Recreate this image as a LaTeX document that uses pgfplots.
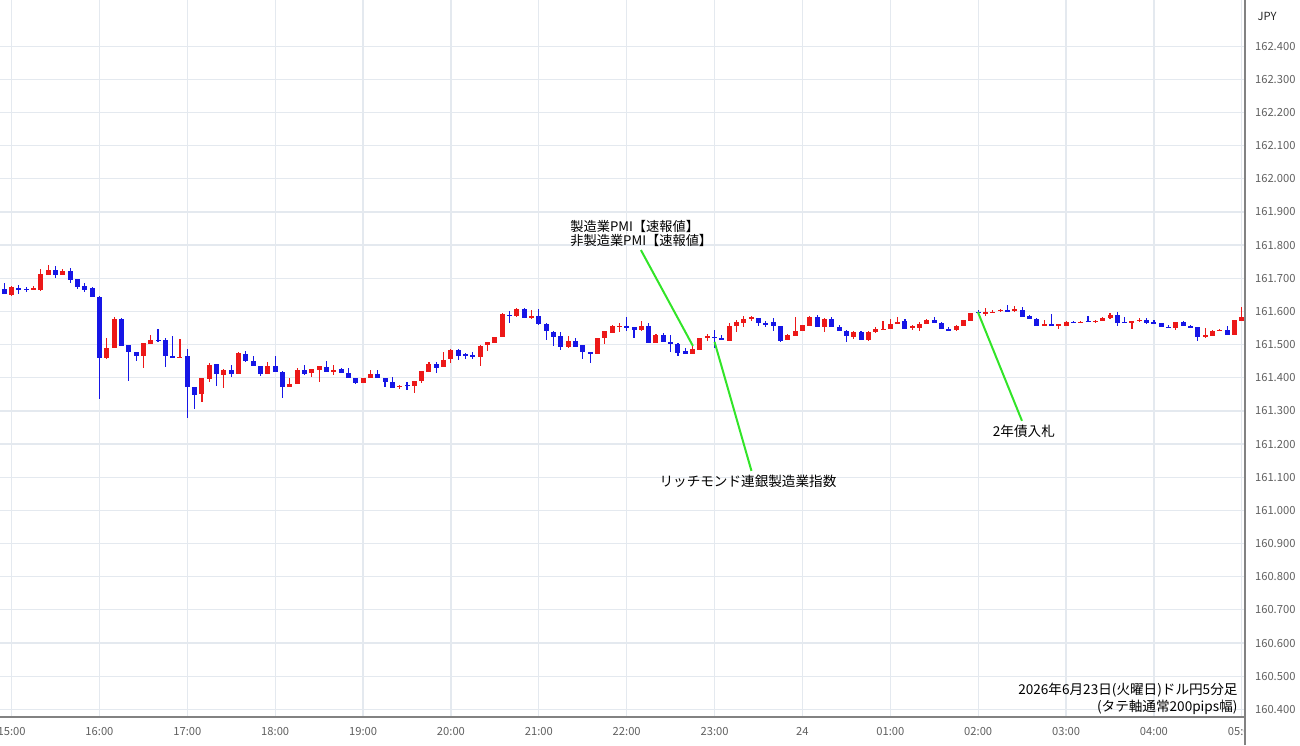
\documentclass[border=0pt]{standalone}
\usepackage{fontspec}
\setmainfont{Noto Sans CJK JP}
\usepackage{pgfplots}
\pgfplotsset{compat=1.18}
\usepackage{pgfplotstable}
\definecolor{upc}{RGB}{236,24,24}
\definecolor{dnc}{RGB}{22,22,230}
\definecolor{gridc}{RGB}{228,233,239}
\definecolor{annc}{RGB}{50,228,40}
\definecolor{tickc}{RGB}{95,95,95}
\definecolor{framec}{RGB}{130,130,130}
\pgfplotstableread{
m o h l c
-5 161.668 161.685 161.652 161.652
0 161.650 161.678 161.648 161.673
5 161.670 161.680 161.652 161.668
10 161.668 161.675 161.660 161.666
15 161.667 161.678 161.666 161.670
20 161.667 161.728 161.663 161.715
25 161.712 161.742 161.712 161.725
30 161.725 161.738 161.700 161.710
35 161.710 161.730 161.710 161.723
40 161.723 161.730 161.685 161.695
45 161.698 161.698 161.667 161.673
50 161.678 161.688 161.660 161.665
55 161.670 161.675 161.643 161.643
60 161.643 161.648 161.335 161.460
65 161.460 161.520 161.458 161.492
70 161.492 161.583 161.490 161.578
75 161.578 161.580 161.498 161.498
80 161.500 161.500 161.390 161.478
85 161.478 161.478 161.450 161.467
90 161.467 161.506 161.428 161.504
95 161.502 161.530 161.502 161.515
100 161.515 161.548 161.508 161.512
105 161.515 161.520 161.432 161.467
110 161.468 161.528 161.462 161.462
115 161.462 161.518 161.461 161.464
120 161.465 161.485 161.278 161.372
125 161.372 161.372 161.307 161.350
130 161.350 161.402 161.327 161.398
135 161.398 161.445 161.387 161.440
140 161.440 161.440 161.375 161.412
145 161.410 161.427 161.370 161.425
150 161.425 161.440 161.402 161.413
155 161.413 161.478 161.412 161.475
160 161.472 161.482 161.447 161.452
165 161.453 161.467 161.435 161.435
170 161.437 161.437 161.405 161.413
175 161.413 161.448 161.412 161.437
180 161.437 161.468 161.420 161.420
185 161.420 161.420 161.340 161.373
190 161.373 161.400 161.373 161.383
195 161.383 161.430 161.382 161.425
200 161.425 161.440 161.410 161.413
205 161.415 161.427 161.402 161.425
210 161.425 161.437 161.388 161.435
215 161.433 161.450 161.417 161.418
220 161.418 161.440 161.410 161.425
225 161.425 161.430 161.414 161.415
230 161.415 161.428 161.400 161.400
235 161.400 161.402 161.382 161.385
240 161.385 161.402 161.385 161.400
245 161.400 161.425 161.400 161.413
250 161.413 161.425 161.400 161.400
255 161.400 161.400 161.372 161.388
260 161.388 161.402 161.370 161.370
265 161.373 161.377 161.365 161.377
270 161.378 161.388 161.365 161.376
275 161.377 161.392 161.355 161.392
280 161.390 161.422 161.385 161.420
285 161.418 161.448 161.418 161.442
290 161.442 161.448 161.415 161.430
295 161.432 161.480 161.432 161.455
300 161.457 161.487 161.445 161.485
305 161.483 161.485 161.452 161.467
310 161.470 161.475 161.458 161.467
315 161.469 161.478 161.458 161.467
320 161.465 161.500 161.435 161.498
325 161.498 161.508 161.483 161.507
330 161.505 161.525 161.505 161.523
335 161.523 161.595 161.522 161.593
340 161.592 161.602 161.565 161.589
345 161.587 161.613 161.586 161.608
350 161.608 161.610 161.580 161.582
355 161.582 161.607 161.580 161.587
360 161.588 161.608 161.558 161.562
365 161.565 161.565 161.515 161.542
370 161.540 161.542 161.498 161.525
375 161.527 161.538 161.485 161.493
380 161.493 161.525 161.490 161.512
385 161.512 161.520 161.493 161.493
390 161.498 161.500 161.457 161.477
395 161.477 161.477 161.445 161.474
400 161.473 161.522 161.472 161.520
405 161.520 161.542 161.502 161.540
410 161.537 161.560 161.537 161.557
415 161.554 161.567 161.540 161.557
420 161.557 161.585 161.542 161.553
425 161.552 161.552 161.522 161.545
430 161.543 161.572 161.542 161.557
435 161.557 161.565 161.505 161.505
440 161.505 161.532 161.505 161.530
445 161.530 161.535 161.508 161.508
450 161.510 161.530 161.480 161.502
455 161.502 161.505 161.468 161.475
460 161.482 161.490 161.472 161.472
465 161.472 161.500 161.472 161.488
470 161.485 161.522 161.484 161.520
475 161.523 161.533 161.512 161.526
480 161.524 161.545 161.492 161.521
485 161.520 161.530 161.515 161.515
490 161.513 161.567 161.512 161.557
495 161.557 161.575 161.538 161.570
500 161.567 161.587 161.553 161.580
505 161.580 161.587 161.572 161.583
510 161.580 161.582 161.558 161.565
515 161.565 161.572 161.552 161.562
520 161.567 161.580 161.542 161.557
525 161.557 161.558 161.510 161.512
530 161.515 161.532 161.514 161.530
535 161.528 161.583 161.527 161.542
540 161.542 161.560 161.541 161.558
545 161.557 161.587 161.556 161.585
550 161.585 161.590 161.553 161.553
555 161.553 161.580 161.537 161.578
560 161.578 161.584 161.552 161.553
565 161.555 161.560 161.540 161.542
570 161.542 161.544 161.508 161.525
575 161.525 161.540 161.517 161.540
580 161.540 161.542 161.514 161.515
585 161.513 161.542 161.512 161.538
590 161.537 161.555 161.536 161.547
595 161.545 161.572 161.544 161.548
600 161.548 161.578 161.547 161.565
605 161.565 161.585 161.564 161.570
610 161.572 161.577 161.547 161.548
615 161.553 161.562 161.545 161.556
620 161.550 161.570 161.542 161.563
625 161.562 161.577 161.562 161.575
630 161.577 161.584 161.566 161.567
635 161.567 161.569 161.548 161.548
640 161.549 161.555 161.543 161.543
645 161.543 161.559 161.542 161.557
650 161.557 161.575 161.556 161.574
655 161.574 161.598 161.573 161.597
660 161.599 161.604 161.592 161.596
665 161.592 161.610 161.588 161.600
670 161.598 161.605 161.596 161.601
675 161.602 161.608 161.600 161.604
680 161.605 161.618 161.600 161.600
685 161.600 161.618 161.599 161.606
690 161.606 161.613 161.584 161.584
695 161.587 161.590 161.576 161.577
700 161.577 161.580 161.557 161.557
705 161.557 161.575 161.556 161.560
710 161.560 161.592 161.556 161.557
715 161.558 161.565 161.548 161.560
720 161.557 161.572 161.556 161.570
725 161.570 161.572 161.566 161.567
730 161.567 161.573 161.566 161.570
735 161.573 161.585 161.569 161.570
740 161.570 161.577 161.566 161.573
745 161.572 161.585 161.571 161.581
750 161.580 161.595 161.579 161.589
755 161.590 161.598 161.558 161.567
760 161.570 161.585 161.566 161.567
765 161.568 161.573 161.548 161.571
770 161.573 161.580 161.568 161.575
775 161.575 161.583 161.564 161.565
780 161.569 161.575 161.564 161.565
785 161.565 161.566 161.553 161.553
790 161.555 161.560 161.551 161.551
795 161.550 161.570 161.545 161.568
800 161.568 161.572 161.556 161.557
805 161.558 161.560 161.552 161.552
810 161.552 161.555 161.513 161.523
815 161.523 161.552 161.522 161.529
820 161.528 161.544 161.527 161.542
825 161.542 161.546 161.541 161.545
830 161.545 161.557 161.529 161.530
835 161.530 161.575 161.529 161.574
840 161.573 161.615 161.572 161.583
}\candles
\pgfplotsset{
  candle/.style n args={2}{only marks, mark=*, mark size=0pt, mark options={draw opacity=0, fill opacity=0},
    forget plot,
    error bars/.cd, y dir=both, y explicit, error mark=none,
    error bar style={draw=#1, solid, line width=#2, opacity=1}, /pgfplots/.cd},
}
\begin{document}
\begin{tikzpicture}
\begin{axis}[
  at={(0pt,14pt)}, anchor=south west,
  scale only axis, width=622pt, height=358.5pt,
  xmin=-7.9, xmax=841.5, ymin=160.377, ymax=162.539,
  axis line style={draw=none},
  major tick length=0pt,
  grid=major, grid style={gridc, line width=0.6pt},
  xtick={0,60,120,180,240,300,360,420,480,540,600,660,720,780,840},
  xticklabels={15:00,16:00,17:00,18:00,19:00,20:00,21:00,22:00,23:00,24,01:00,02:00,03:00,04:00,05:00},
  ytick={160.4,160.5,160.6,160.7,160.8,160.9,161.0,161.1,161.2,161.3,161.4,161.5,161.6,161.7,161.8,161.9,162.0,162.1,162.2,162.3,162.4},
  yticklabel pos=right,
  /pgf/number format/assume math mode=true,
  yticklabel style={/pgf/number format/.cd, fixed, fixed zerofill, precision=3, 1000 sep={}, /tikz/.cd,
    font=\fontsize{5.6}{6}\selectfont, text=tickc, anchor=west, xshift=2pt},
  xticklabel style={font=\fontsize{5.6}{6}\selectfont, text=tickc, yshift=-1.5pt},
]
% up candles (red)
\addplot[restrict expr to domain={\thisrow{c}-\thisrow{o}}{0.0000001:1}, candle={upc}{0.55pt}]
  table[x=m, y expr={(\thisrow{h}+\thisrow{l})/2}, y error expr={(\thisrow{h}-\thisrow{l})/2}] {\candles};
\addplot[restrict expr to domain={\thisrow{c}-\thisrow{o}}{0.0000001:1}, candle={upc}{2.5pt}]
  table[x=m, y expr={(\thisrow{o}+\thisrow{c})/2}, y error expr={max(abs(\thisrow{c}-\thisrow{o})/2,0.0016)}] {\candles};
% down candles (blue)
\addplot[restrict expr to domain={\thisrow{c}-\thisrow{o}}{-1:0}, candle={dnc}{0.55pt}]
  table[x=m, y expr={(\thisrow{h}+\thisrow{l})/2}, y error expr={(\thisrow{h}-\thisrow{l})/2}] {\candles};
\addplot[restrict expr to domain={\thisrow{c}-\thisrow{o}}{-1:0}, candle={dnc}{2.5pt}]
  table[x=m, y expr={(\thisrow{o}+\thisrow{c})/2}, y error expr={max(abs(\thisrow{c}-\thisrow{o})/2,0.0016)}] {\candles};
% annotations
\draw[annc, line width=1pt] (axis cs:429.7,161.785) -- (axis cs:465.2,161.496);
\draw[annc, line width=1pt] (axis cs:480,161.508) -- (axis cs:505.2,161.119);
\draw[annc, line width=1pt] (axis cs:659.8,161.598) -- (axis cs:689.9,161.270);
\node[anchor=west, align=left, inner sep=0pt, font=\fontsize{6.6}{7}\selectfont] at (axis cs:381.3,161.8335)
  {製造業PMI【速報値】\\非製造業PMI【速報値】};
\node[inner sep=0pt, font=\fontsize{6.8}{7}\selectfont] at (axis cs:502.8,161.089) {リッチモンド連銀製造業指数};
\node[inner sep=0pt, font=\fontsize{6.8}{7}\selectfont] at (axis cs:691.2,161.237) {2年債入札};
\node[anchor=east, align=right, inner sep=0pt, font=\fontsize{6.8}{7}\selectfont] at (axis cs:837.3,160.432)
  {2026年6月23日(火曜日)ドル円5分足\\(タテ軸通常200pips幅)};
\end{axis}
\fill[white] (622.5pt,0pt) rectangle (650pt,13.6pt);
\draw[framec, line width=1pt] (622.5pt,0pt) -- (622.5pt,372.5pt);
\draw[framec, line width=0.75pt] (0pt,14pt) -- (622.5pt,14pt);
\node[font=\fontsize{5.6}{6}\selectfont, text=black!85] at (633.5pt,364.5pt) {JPY};
\pgfresetboundingbox
\path[use as bounding box] (0pt,0pt) rectangle (650pt,372.5pt);
\end{tikzpicture}
\end{document}
